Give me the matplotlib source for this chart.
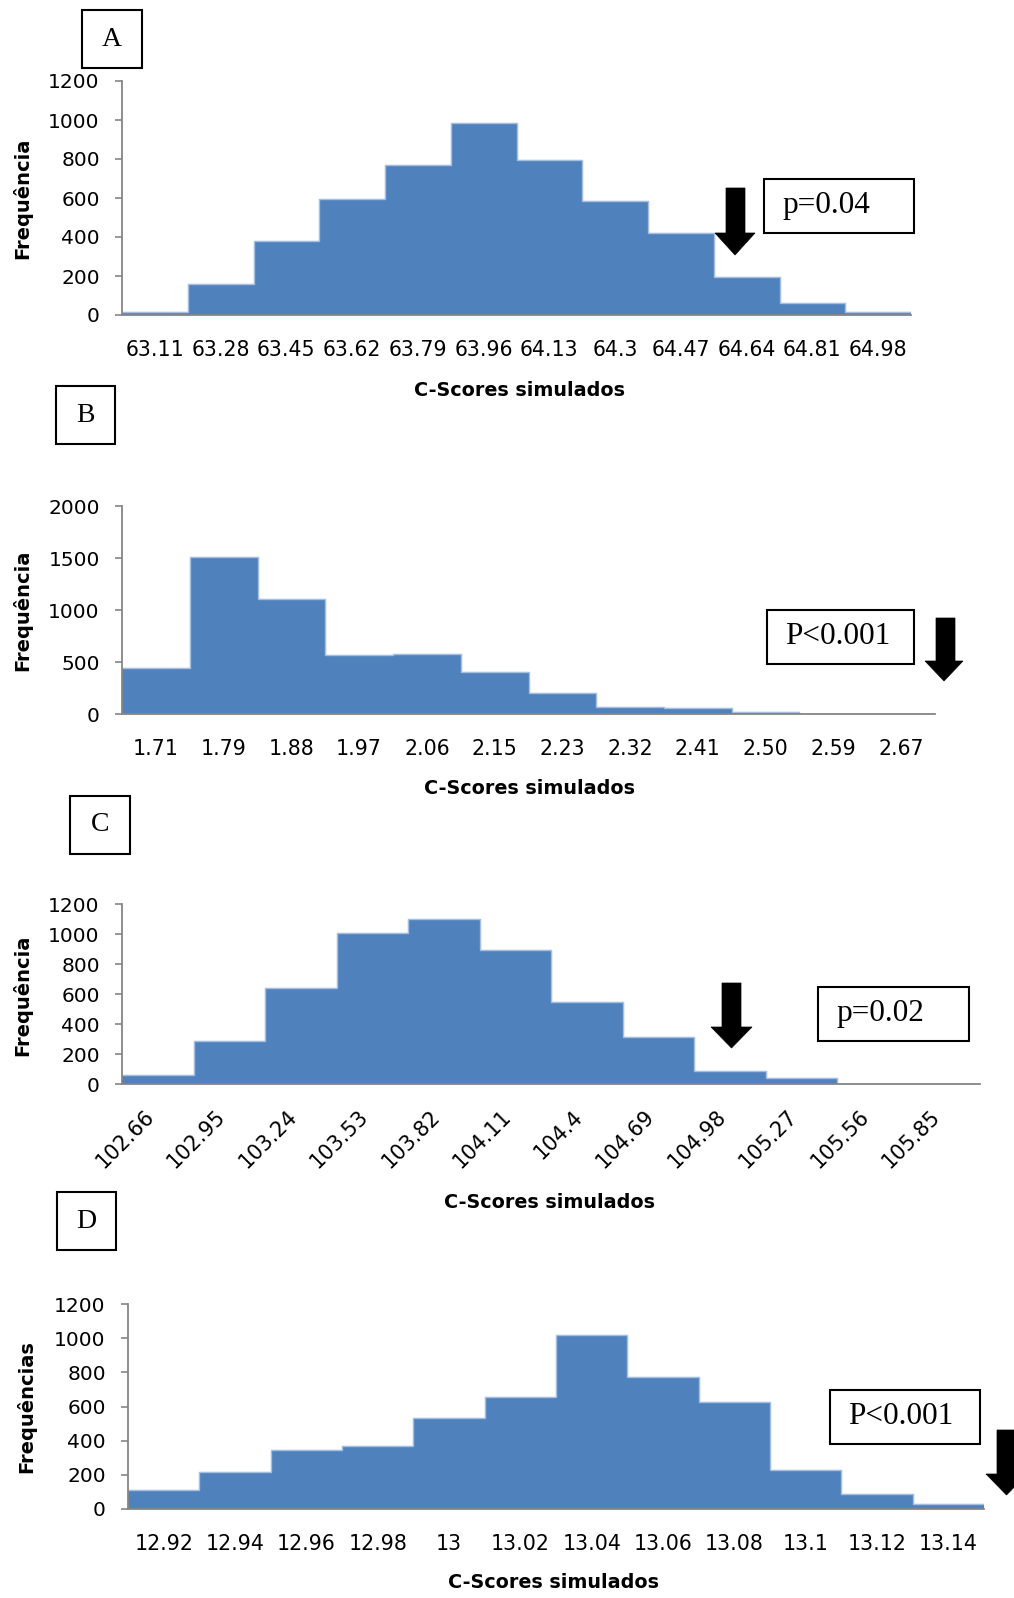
import numpy as np
import matplotlib
matplotlib.use("Agg")
import matplotlib.pyplot as plt
from matplotlib.patches import Polygon, Rectangle

# ---------------- data ----------------
labels_a = ["63.11", "63.28", "63.45", "63.62", "63.79", "63.96", "64.13", "64.3",
            "64.47", "64.64", "64.81", "64.98"]
freq_a = [15, 160, 377, 596, 768, 985, 795, 587, 418, 193, 61, 15]

labels_b = ["1.71", "1.79", "1.88", "1.97", "2.06", "2.15", "2.23", "2.32",
            "2.41", "2.50", "2.59", "2.67"]
freq_b = [438, 1514, 1107, 570, 573, 406, 198, 64, 54, 16, 4, 2]

labels_c = ["102.66", "102.95", "103.24", "103.53", "103.82", "104.11", "104.4",
            "104.69", "104.98", "105.27", "105.56", "105.85"]
freq_c = [60, 290, 637, 1007, 1100, 893, 548, 312, 87, 38, 3, 1]

labels_d = ["12.92", "12.94", "12.96", "12.98", "13", "13.02", "13.04", "13.06",
            "13.08", "13.1", "13.12", "13.14"]
freq_d = [109, 218, 343, 368, 532, 658, 1017, 775, 627, 228, 90, 29]

panel_letters = ["A", "B", "C", "D"]
p_texts = ["p=0.04", "P<0.001", "p=0.02", "P<0.001"]
ylabels = ["Frequência", "Frequência", "Frequência", "Frequências"]
xlabel = "C-Scores simulados"
yticks_list = [np.arange(0, 1201, 200), np.arange(0, 2001, 500),
               np.arange(0, 1201, 200), np.arange(0, 1201, 200)]

# ---------------- layout (pixels) ----------------
W, H = 1014, 1598
BAR = "#4F81BD"
EDGE = "#A4BFE0"
AXC = "#868686"

plt.rcParams["font.family"] = ["DejaVu Sans"]
fig = plt.figure(figsize=(W / 100, H / 100), dpi=100)


def rect(l, t, r, b):
    return [l / W, 1 - b / H, (r - l) / W, (b - t) / H]


def fx(x):
    return x / W


def fy(y):
    return 1 - y / H


axes_px = [(122, 81, 911, 315), (122, 506, 935, 714),
           (122, 904, 980, 1084), (128, 1304, 984, 1509)]
ylabel_pos = [(22, 198), (22, 610), (22, 995), (26, 1407)]
xlabel_pos = [(519, 390), (529, 788), (550, 1203), (553, 1583)]
letter_boxes = [(82, 10, 142, 68), (56, 386, 115, 444),
                (70, 796, 130, 854), (57, 1192, 116, 1250)]
p_boxes = [(764, 179, 914, 233), (767, 610, 914, 664),
           (818, 987, 969, 1041), (830, 1390, 980, 1444)]
# arrows: shaft_l, shaft_r, top, head_base, tip, head_l, head_r
arrows = [(726, 745, 188, 233, 255, 715, 755),
          (936, 955, 618, 661, 681, 925, 963),
          (722, 741, 983, 1027, 1048, 711, 752),
          (997, 1016, 1430, 1474, 1495, 986, 1027)]

datasets = [(labels_a, freq_a), (labels_b, freq_b), (labels_c, freq_c), (labels_d, freq_d)]

for i, (labs, vals) in enumerate(datasets):
    ax = fig.add_axes(rect(*axes_px[i]))
    x = np.arange(len(vals))
    ax.bar(x, vals, width=1.0, color=BAR, edgecolor=BAR, lw=0.8, zorder=2)
    ax.stairs(vals, np.arange(len(vals) + 1) - 0.5, color=EDGE, lw=1.0,
              baseline=None, zorder=3)
    ax.set_xlim(-0.5, len(vals) - 0.5)
    yt = yticks_list[i]
    ax.set_ylim(0, yt[-1])
    ax.set_yticks(yt)
    ax.set_yticklabels([str(v) for v in yt])
    for s in ["top", "right"]:
        ax.spines[s].set_visible(False)
    for s in ["left", "bottom"]:
        ax.spines[s].set_color(AXC)
        ax.spines[s].set_linewidth(1.3)
        ax.spines[s].set_zorder(4)
    ax.tick_params(axis="y", direction="out", length=5, width=1.2, color=AXC,
                   pad=11, labelsize=14.5)
    if i == 2:
        ax.set_xticks(x)
        ax.set_xticklabels(labs, rotation=45, ha="right", va="top",
                           rotation_mode="default")
        ax.tick_params(axis="x", length=0, pad=16, labelsize=15)
    else:
        ax.set_xticks(x)
        ax.set_xticklabels(labs)
        ax.tick_params(axis="x", length=0, pad=18, labelsize=14.8)
    ax.patch.set_alpha(0)

    # axis titles
    lx, ly = ylabel_pos[i]
    fig.text(fx(lx), fy(ly), ylabels[i], rotation=90, ha="center", va="center",
             fontsize=14, fontweight="bold")
    tx, ty = xlabel_pos[i]
    fig.text(fx(tx), fy(ty), xlabel, ha="center", va="center",
             fontsize=13.8, fontweight="bold")

    # panel letter box
    l, t, r, b = letter_boxes[i]
    fig.add_artist(Rectangle((fx(l), fy(b)), fx(r - l), (b - t) / H,
                             transform=fig.transFigure, fill=False,
                             edgecolor="black", lw=1.5))
    fig.text(fx((l + r) / 2), fy((t + b) / 2), panel_letters[i], ha="center",
             va="center", fontsize=20, family=["Liberation Serif", "DejaVu Serif"])

    # p-value box
    l, t, r, b = p_boxes[i]
    fig.add_artist(Rectangle((fx(l), fy(b)), fx(r - l), (b - t) / H,
                             transform=fig.transFigure, fill=False,
                             edgecolor="black", lw=1.5))
    fig.text(fx(l + 18), fy((t + b) / 2), p_texts[i], ha="left", va="center",
             fontsize=22.5, family=["Liberation Serif", "DejaVu Serif"])

    # arrow
    sl, sr, top, hb, tip, hl, hr = arrows[i]
    cx = (hl + hr) / 2
    pts = [(sl, top), (sr, top), (sr, hb), (hr, hb), (cx, tip), (hl, hb), (sl, hb)]
    fig.add_artist(Polygon([(fx(px), fy(py)) for px, py in pts], closed=True,
                           transform=fig.transFigure, facecolor="black",
                           edgecolor="black", lw=0.5))

fig.savefig("out.png", dpi=100)
